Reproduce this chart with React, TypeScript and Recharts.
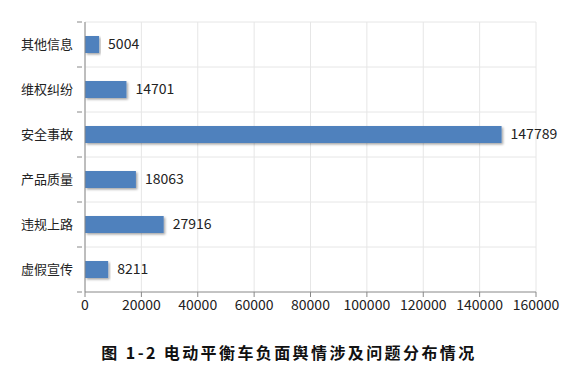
import { Bar, BarChart, CartesianGrid, LabelList, XAxis, YAxis } from 'recharts';

const CATEGORIES = ['其他信息', '维权纠纷', '安全事故', '产品质量', '违规上路', '虚假宣传'];
const COUNTS = [5004, 14701, 147789, 18063, 27916, 8211];
const X_TICKS = [0, 20000, 40000, 60000, 80000, 100000, 120000, 140000, 160000];
const TITLE = '图 1-2 电动平衡车负面舆情涉及问题分布情况';

const data = CATEGORIES.map((name, i) => ({ name, value: COUNTS[i] }));

const FONT = '"Microsoft YaHei", "Noto Sans CJK SC", "Noto Sans", sans-serif';
const TOP = 22;
const PLOT_H = 270;
const BAND = PLOT_H / CATEGORIES.length;

const CategoryTick = (props: any) => {
  const { x, y, payload, index } = props;
  return (
    <g>
      <line x1={x} x2={x + 5} y1={y - BAND / 2} y2={y - BAND / 2} stroke="#888" />
      {index === CATEGORIES.length - 1 && (
        <line x1={x} x2={x + 5} y1={y + BAND / 2} y2={y + BAND / 2} stroke="#888" />
      )}
      <text x={x - 4} y={y} dy="0.35em" textAnchor="end" fontSize={13} fill="#222" fontFamily={FONT}>
        {payload.value}
      </text>
    </g>
  );
};

export default function App() {
  return (
    <div style={{ position: 'absolute', left: 0, top: 0, width: 578, height: 372, background: '#fff' }}>
      <BarChart
        layout="vertical"
        width={578}
        height={320}
        data={data}
        margin={{ top: TOP, right: 42, bottom: 4, left: 0 }}
        barSize={17}
      >
        <defs>
          <filter id="barShadow" x="-5%" y="-20%" width="115%" height="160%">
            <feDropShadow dx="1.5" dy="1.5" stdDeviation="1" floodColor="#000" floodOpacity="0.35" />
          </filter>
        </defs>
        <CartesianGrid
          stroke="#e6e6e6"
          horizontalCoordinatesGenerator={({ offset }: any) =>
            CATEGORIES.map((_, i) => offset.top + (i * offset.height) / CATEGORIES.length)
          }
        />
        <XAxis
          type="number"
          domain={[0, 160000]}
          ticks={X_TICKS}
          interval={0}
          height={24}
          tickSize={5}
          tickMargin={3}
          stroke="#888"
          tick={{ fontSize: 14, fill: '#222', fontFamily: FONT }}
        />
        <YAxis
          type="category"
          dataKey="name"
          width={85}
          tickLine={false}
          stroke="#888"
          tick={<CategoryTick />}
        />
        <Bar dataKey="value" fill="#4f81bd" filter="url(#barShadow)" isAnimationActive={false}>
          <LabelList
            dataKey="value"
            position="right"
            offset={9}
            fill="#222"
            fontSize={14}
            fontFamily={FONT}
          />
        </Bar>
      </BarChart>
      <div
        style={{
          position: 'absolute',
          left: 0,
          top: 342,
          width: 578,
          textAlign: 'center',
          fontFamily: '"Noto Sans CJK SC", serif',
          fontWeight: 'bold',
          fontSize: 16,
          letterSpacing: 2.4,
          color: '#111',
          lineHeight: '20px',
        }}
      >
        {TITLE}
      </div>
    </div>
  );
}
